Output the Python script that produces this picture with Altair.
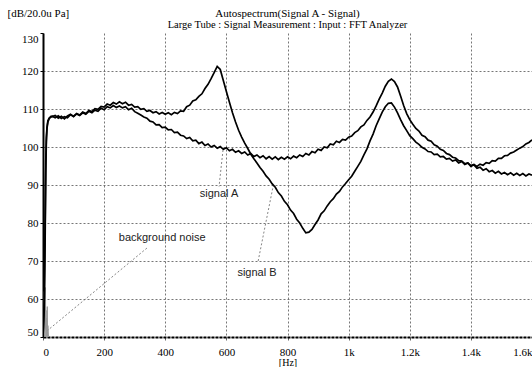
import altair as alt
import pandas as pd

# ---- data ----
head_freq = [0, 4, 7, 9, 11, 13, 16, 20, 25]
head_a = [50.0, 60.0, 80.0, 96.0, 102.5, 105.2, 106.9, 107.6, 107.8]
head_b = [50.0, 57.0, 76.0, 93.0, 101.5, 104.8, 106.6, 107.4, 108.0]

body_freq = list(range(30, 1601, 10))
signal_a = [
    108.0, 108.3, 107.6, 108.1, 107.4, 108.2, 108.6, 108.0, 108.7, 108.3,
    109.0, 108.6, 109.4, 109.0, 109.7, 109.4, 110.2, 109.8, 110.6, 110.3,
    110.9, 110.4, 110.8, 110.3, 110.6, 109.8, 110.2, 109.3, 108.9, 108.4,
    107.9, 107.6, 106.8, 106.6, 105.8, 105.9, 105.1, 105.2, 104.5, 104.6,
    103.8, 103.9, 103.1, 102.9, 102.2, 102.5, 101.6, 101.8, 100.9, 101.3,
    100.4, 100.8, 100.0, 100.4, 99.7, 100.1, 99.4, 99.8, 99.0, 99.4,
    98.6, 99.0, 98.3, 98.7, 97.9, 98.3, 97.5, 97.9, 97.2, 97.7,
    96.9, 97.5, 96.8, 97.4, 96.7, 97.3, 96.8, 97.4, 96.9, 97.6,
    97.2, 97.9, 97.5, 98.3, 97.9, 98.8, 98.5, 99.4, 99.1, 100.0,
    99.8, 100.8, 100.6, 101.5, 101.2, 102.0, 101.8, 102.6, 102.9, 103.8,
    104.3, 105.3, 105.8, 107.0, 107.9, 109.2, 110.8, 112.6, 114.2, 116.0,
    117.3, 117.9, 117.2, 115.8, 113.4, 110.9, 108.8, 107.2, 106.0, 104.9,
    104.2, 103.1, 102.7, 101.8, 101.5, 100.6, 100.2, 99.4, 99.1, 98.3,
    98.0, 97.3, 97.1, 96.4, 96.3, 95.6, 95.8, 95.1, 95.4, 94.9,
    95.5, 95.2, 95.9, 95.7, 96.4, 96.3, 97.0, 97.0, 97.7, 97.8,
    98.4, 98.7, 99.2, 99.7, 100.1, 100.8, 101.2, 101.9,
]
signal_b = [
    108.1, 107.7, 108.2, 107.5, 108.0, 107.7, 108.5, 108.1, 108.8, 108.4,
    109.2, 108.8, 109.6, 109.3, 110.1, 109.9, 110.7, 110.5, 111.3, 111.0,
    111.7, 111.3, 111.9, 111.4, 111.8, 111.0, 111.2, 110.5, 110.6, 109.9,
    110.1, 109.4, 109.6, 109.0, 109.3, 108.7, 109.1, 108.6, 109.0, 108.5,
    109.1, 108.8, 109.5, 109.4, 110.6, 111.0, 112.1, 112.4, 113.3, 114.0,
    115.4, 116.5, 118.0, 119.6, 121.2, 120.4, 117.5, 114.6, 111.8, 109.0,
    106.6, 104.4, 102.6, 101.0, 99.6, 98.1, 96.9, 95.8, 94.6, 93.6,
    92.4, 91.5, 90.3, 89.4, 88.0, 87.1, 85.7, 84.8, 83.4, 82.5,
    81.0, 80.0, 78.6, 77.4, 77.6, 78.3, 79.6, 80.8, 82.4, 83.2,
    84.5, 85.6, 86.4, 87.6, 88.3, 89.5, 90.4, 91.4, 92.3, 93.6,
    94.9, 96.2, 97.9, 99.5, 101.6, 103.4, 105.6, 107.4, 109.2, 110.6,
    111.5, 111.6, 110.5, 109.0, 107.2, 105.6, 104.3, 103.0, 102.2, 101.3,
    100.7, 99.9, 99.5, 98.8, 98.7, 98.0, 98.1, 97.4, 97.5, 96.8,
    97.0, 96.3, 96.6, 95.8, 96.2, 95.4, 95.8, 94.9, 95.3, 94.4,
    94.7, 93.9, 94.3, 93.5, 93.8, 93.1, 93.6, 92.9, 93.3, 92.7,
    93.2, 92.6, 93.1, 92.5, 93.0, 92.4, 92.9, 92.6,
]

noise_freq = [0, 1, 2, 3, 4, 5, 6, 7, 8, 9, 10, 11, 12, 13, 14, 15, 16, 18]
noise_db = [62, 51, 58, 50, 60, 53, 56, 50, 63, 52, 57, 50, 55, 51, 58, 50, 53, 50]

labels = ["background noise", "signal A", "signal B"]
label_freq = [390, 576, 700]
label_db = [76.0, 87.6, 66.8]
leader_f1 = [340, 589, 704]
leader_d1 = [73.4, 99.2, 70.0]
leader_f2 = [16, 576, 753]
leader_d2 = [51.8, 89.6, 89.7]

x_ticks = [0, 200, 400, 600, 800, 1000, 1200, 1400, 1600]
x_labels = ["0", "200", "400", "600", "800", "1k", "1.2k", "1.4k", "1.6k"]
y_ticks = [50, 60, 70, 80, 90, 100, 110, 120, 130]

# ---- tables ----
rows = []
for f, v in zip(head_freq + body_freq, head_a + signal_a):
    rows.append({"freq": f, "db": v, "series": "A"})
for f, v in zip(head_freq + body_freq, head_b + signal_b):
    rows.append({"freq": f, "db": v, "series": "B"})
curves = pd.DataFrame(rows)
noise = pd.DataFrame({"freq": noise_freq, "db": noise_db})
ann = pd.DataFrame({"text": labels, "freq": label_freq, "db": label_db})
leaders = pd.DataFrame({"freq": leader_f1, "db": leader_d1,
                        "freq2": leader_f2, "db2": leader_d2})

label_expr = ""
for t, l in zip(x_ticks, x_labels):
    label_expr += f"datum.value == {t} ? '{l}' : "
label_expr += "''"

SERIF = "Liberation Serif"
SANS = "Liberation Sans"
GRID = "#666666"

x_axis = alt.Axis(
    values=x_ticks, labelExpr=label_expr, title="[Hz]",
    titleFont=SERIF, titleFontSize=10, titleFontWeight="normal", titlePadding=0,
    labelFont=SERIF, labelFontSize=11, labelPadding=6, labelFlush=True,
    domainColor="black", domainWidth=2, domainDash=[3, 1],
    tickColor=GRID, tickSize=3, grid=True, gridColor=GRID, gridDash=[2, 2],
    gridWidth=0.9,
)
y_axis = alt.Axis(
    values=y_ticks, title="[dB/20.0u Pa]", titleAngle=0, titleAlign="left",
    titleBaseline="middle", titleX=-36, titleY=-20, titleFont=SERIF,
    titleFontSize=11, titleFontWeight="normal",
    labelFont=SERIF, labelFontSize=11, labelPadding=2, labelFlush=True,
    domainColor="black", domainWidth=2, tickColor="black", tickSize=3,
    grid=True, gridDash=[2, 2], gridWidth=0.9,
    gridColor=alt.condition("datum.value == 130", alt.value("transparent"), alt.value(GRID)),
)

xs = alt.Scale(domain=[0, 1600], nice=False, zero=False)
ys = alt.Scale(domain=[50, 130], nice=False, zero=False)

lines = alt.Chart(curves).mark_line(color="black", strokeWidth=1.7, clip=True).encode(
    x=alt.X("freq:Q", scale=xs, axis=x_axis),
    y=alt.Y("db:Q", scale=ys, axis=y_axis),
    detail="series:N",
)
bg = alt.Chart(noise).mark_line(color="#9a9a9a", strokeWidth=1, clip=True).encode(
    x=alt.X("freq:Q", scale=xs, axis=x_axis),
    y=alt.Y("db:Q", scale=ys, axis=y_axis),
)
lead = alt.Chart(leaders).mark_rule(color="#666", strokeWidth=0.8, strokeDash=[2, 2]).encode(
    x=alt.X("freq:Q", scale=xs, axis=x_axis),
    y=alt.Y("db:Q", scale=ys, axis=y_axis),
    x2="freq2:Q", y2="db2:Q",
)
txt = alt.Chart(ann).mark_text(font=SANS, fontSize=11, color="#222").encode(
    x=alt.X("freq:Q", scale=xs, axis=x_axis),
    y=alt.Y("db:Q", scale=ys, axis=y_axis),
    text="text:N",
)

chart = alt.layer(bg, lead, lines, txt).properties(
    width=489, height=304,
    title=alt.TitleParams(
        text="Autospectrum(Signal A - Signal)",
        subtitle="Large Tube : Signal Measurement : Input : FFT Analyzer",
        font=SERIF, fontSize=11, fontWeight="normal", color="black",
        subtitleFont=SERIF, subtitleFontSize=10.5, subtitleColor="black",
        subtitlePadding=1, anchor="middle", offset=3, dy=26,
    ),
    autosize=alt.AutoSizeParams(type="none"),
    padding={"left": 43, "top": 33, "right": 0, "bottom": 30},
    background="white",
).configure_view(stroke=None)

chart.save("out.html", embed_options={"renderer": "svg", "actions": False})
